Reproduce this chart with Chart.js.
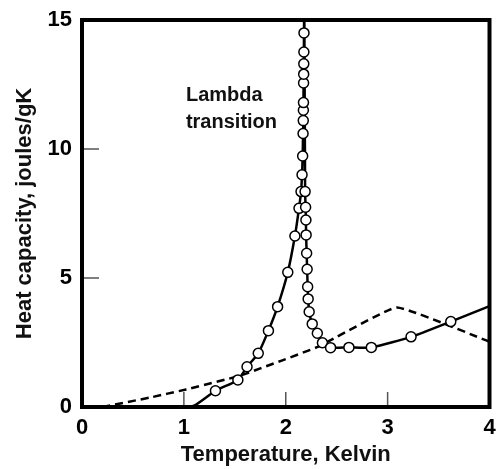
<!DOCTYPE html>
<html>
<head>
<meta charset="utf-8">
<script src="https://cdn.jsdelivr.net/npm/chart.js@4/dist/chart.umd.min.js"></script>
<style>
  html, body { margin: 0; padding: 0; background: #fff; }
  #wrap { width: 496px; height: 469px; }
</style>
</head>
<body>
<div id="wrap"><canvas id="heatChart"></canvas></div>
<script>
// measured points (open circles), temperature in K, heat capacity in J/gK
const measuredT = [1.31, 1.53, 1.62, 1.73, 1.83, 1.92, 2.02, 2.09, 2.13, 2.15, 2.16, 2.166,
  2.170, 2.172, 2.173, 2.174, 2.175, 2.176, 2.177, 2.178, 2.179,
  2.19, 2.195, 2.198, 2.20, 2.205, 2.21, 2.215, 2.22, 2.23, 2.26, 2.31, 2.36, 2.44,
  2.62, 2.84, 3.23, 3.62];
const measuredC = [0.63, 1.05, 1.56, 2.08, 2.96, 3.89, 5.22, 6.63, 7.7, 8.35, 9.0, 9.73,
  10.6, 11.1, 11.5, 11.8, 12.56, 12.9, 13.3, 13.76, 14.5,
  8.35, 7.74, 7.25, 6.67, 5.96, 5.34, 4.66, 4.19, 3.69, 3.22, 2.86, 2.49, 2.30,
  2.31, 2.31, 2.72, 3.31];
// extra points of the solid curve that carry no marker
const curveExtraT = [0, 1.0, 1.1, 2.182, 4.0];
const curveExtraC = [0, 0, 0.05, 15.6, 3.91];
// dashed curve
const dashedT = [0.2, 0.66, 1.02, 1.54, 1.96, 2.32, 3.09, 4.0];
const dashedC = [0, 0.36, 0.68, 1.2, 1.8, 2.34, 3.86, 2.53];

const xTicks = [0, 1, 2, 3, 4];
const yTicks = [0, 5, 10, 15];

const toPoints = (xs, ys) => xs.map((x, i) => ({ x, y: ys[i] }));
const measured = toPoints(measuredT, measuredC);
const curve = measured.concat(toPoints(curveExtraT, curveExtraC)).sort((a, b) => a.x - b.x);
const dashed = toPoints(dashedT, dashedC);

const FONT = '"Liberation Sans", Arial, Helvetica, sans-serif';

// frame, inner tick marks and the label
const framePlugin = {
  id: 'frame',
  afterDatasetsDraw(chart) {
    const { ctx, chartArea: a, scales: { x, y } } = chart;
    ctx.save();
    ctx.strokeStyle = '#555';
    ctx.lineWidth = 1.5;
    xTicks.slice(1, -1).forEach(v => {
      const px = x.getPixelForValue(v);
      ctx.beginPath();
      ctx.moveTo(px, a.bottom);
      ctx.lineTo(px, a.bottom - 15);
      ctx.stroke();
    });
    yTicks.slice(1, -1).forEach(v => {
      const py = y.getPixelForValue(v);
      ctx.beginPath();
      ctx.moveTo(a.left, py);
      ctx.lineTo(a.left + 17, py);
      ctx.stroke();
    });
    ctx.strokeStyle = '#000';
    ctx.lineWidth = 4;
    ctx.strokeRect(a.left, a.top, a.right - a.left, a.bottom - a.top);

    ctx.fillStyle = '#111';
    ctx.font = 'bold 20px ' + FONT;
    ctx.textBaseline = 'alphabetic';
    ctx.textAlign = 'left';
    const lx = x.getPixelForValue(1.02);
    ctx.fillText('Lambda', lx, y.getPixelForValue(11.85));
    ctx.fillText('transition', lx, y.getPixelForValue(10.8));
    ctx.restore();
  }
};

new Chart(document.getElementById('heatChart'), {
  type: 'scatter',
  data: {
    datasets: [
      {
        data: measured,
        showLine: false,
        pointRadius: 5,
        pointBackgroundColor: '#fff',
        pointBorderColor: '#000',
        pointBorderWidth: 1.5
      },
      {
        data: curve,
        showLine: true,
        borderColor: '#000',
        borderWidth: 2.5,
        pointRadius: 0,
        tension: 0.2,
        clip: 0
      },
      {
        data: dashed,
        showLine: true,
        borderColor: '#000',
        borderWidth: 2.5,
        borderDash: [8, 5],
        pointRadius: 0,
        tension: 0.1,
        clip: 0
      }
    ]
  },
  options: {
    responsive: true,
    maintainAspectRatio: false,
    animation: false,
    layout: { padding: { top: 20, right: 4, left: 0, bottom: 0 } },
    plugins: { legend: { display: false }, tooltip: { enabled: false } },
    scales: {
      x: {
        type: 'linear',
        min: 0, max: 4,
        afterBuildTicks: s => { s.ticks = xTicks.map(v => ({ value: v })); },
        grid: { display: false, drawTicks: false },
        border: { display: false },
        ticks: { color: '#000', padding: 8, font: { family: FONT, size: 22, weight: 'bold' } },
        title: {
          display: true,
          text: 'Temperature, Kelvin',
          color: '#111',
          padding: { top: 0, bottom: 1 },
          font: { family: FONT, size: 22, weight: 'bold' }
        },
        afterFit: s => { s.height = 62; s.paddingLeft = 0; s.paddingRight = 0; }
      },
      y: {
        type: 'linear',
        min: 0, max: 15,
        afterBuildTicks: s => { s.ticks = yTicks.map(v => ({ value: v })); },
        grid: { display: false, drawTicks: false },
        border: { display: false },
        ticks: { color: '#000', padding: 10, font: { family: FONT, size: 22, weight: 'bold' } },
        title: {
          display: true,
          text: 'Heat capacity, joules/gK',
          color: '#111',
          padding: { top: 12, bottom: 0 },
          font: { family: FONT, size: 22, weight: 'bold' }
        },
        afterFit: s => { s.width = 82; s.paddingTop = 0; s.paddingBottom = 0; }
      }
    }
  },
  plugins: [framePlugin]
});
</script>
</body>
</html>
